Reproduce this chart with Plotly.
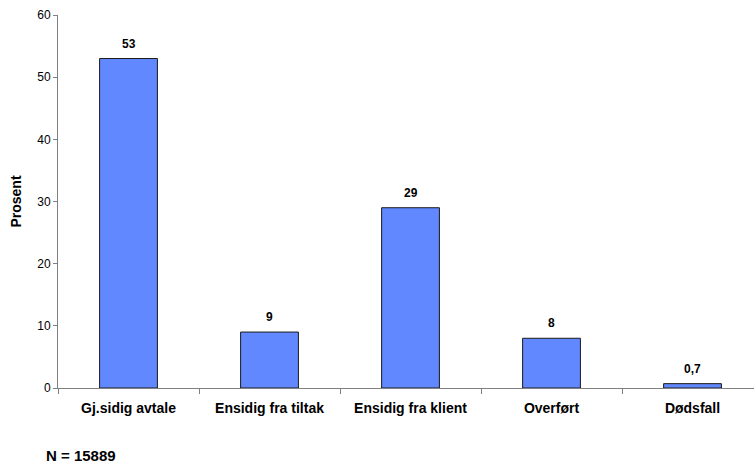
import plotly.graph_objects as go

categories = ["Gj.sidig avtale", "Ensidig fra tiltak", "Ensidig fra klient", "Overført", "Dødsfall"]
values = [53, 9, 29, 8, 0.7]
value_labels = ["53", "9", "29", "8", "0,7"]
y_ticks = [0, 10, 20, 30, 40, 50, 60]

FONT = "Liberation Sans, Arial, sans-serif"

fig = go.Figure(
    go.Bar(
        x=categories,
        y=values,
        marker=dict(color="#6188FF", line=dict(color="#1a1a1a", width=1)),
        width=0.41,
        hoverinfo="skip",
    )
)

for cat, val, lab in zip(categories, values, value_labels):
    fig.add_annotation(
        x=cat, y=val, text=f"<b>{lab}</b>", showarrow=False,
        yanchor="bottom", yshift=6,
        font=dict(family=FONT, size=12, color="#000000"),
    )

fig.add_annotation(
    xref="paper", yref="paper", x=-0.019, y=-0.181,
    xanchor="left", yanchor="middle",
    text="<b>N = 15889</b>", showarrow=False, borderpad=0,
    font=dict(family=FONT, size=15, color="#000000"),
)

fig.update_layout(
    width=754, height=465,
    margin=dict(l=58, r=0, t=15, b=77),
    paper_bgcolor="white", plot_bgcolor="white",
    showlegend=False,
    font=dict(family=FONT, color="#000000"),
    xaxis=dict(
        type="category",
        range=[-0.5, 4.436],
        showline=True, linecolor="#808080", linewidth=1,
        ticks="outside", ticklen=5, tickcolor="#808080",
        tickson="boundaries",
        ticklabelstandoff=7,
        tickfont=dict(family=FONT, size=14, color="#000000"),
        tickprefix="<b>", ticksuffix="</b>",
        showgrid=False,
    ),
    yaxis=dict(
        range=[0, 60],
        tickvals=y_ticks,
        showline=True, linecolor="#808080", linewidth=1,
        ticks="outside", ticklen=4, tickcolor="#808080",
        tickfont=dict(family=FONT, size=12, color="#000000"),
        showgrid=False, zeroline=False,
        title=dict(text="<b>Prosent</b>", font=dict(family=FONT, size=14, color="#000000"), standoff=12),
    ),
)

fig.write_html("out.html")
